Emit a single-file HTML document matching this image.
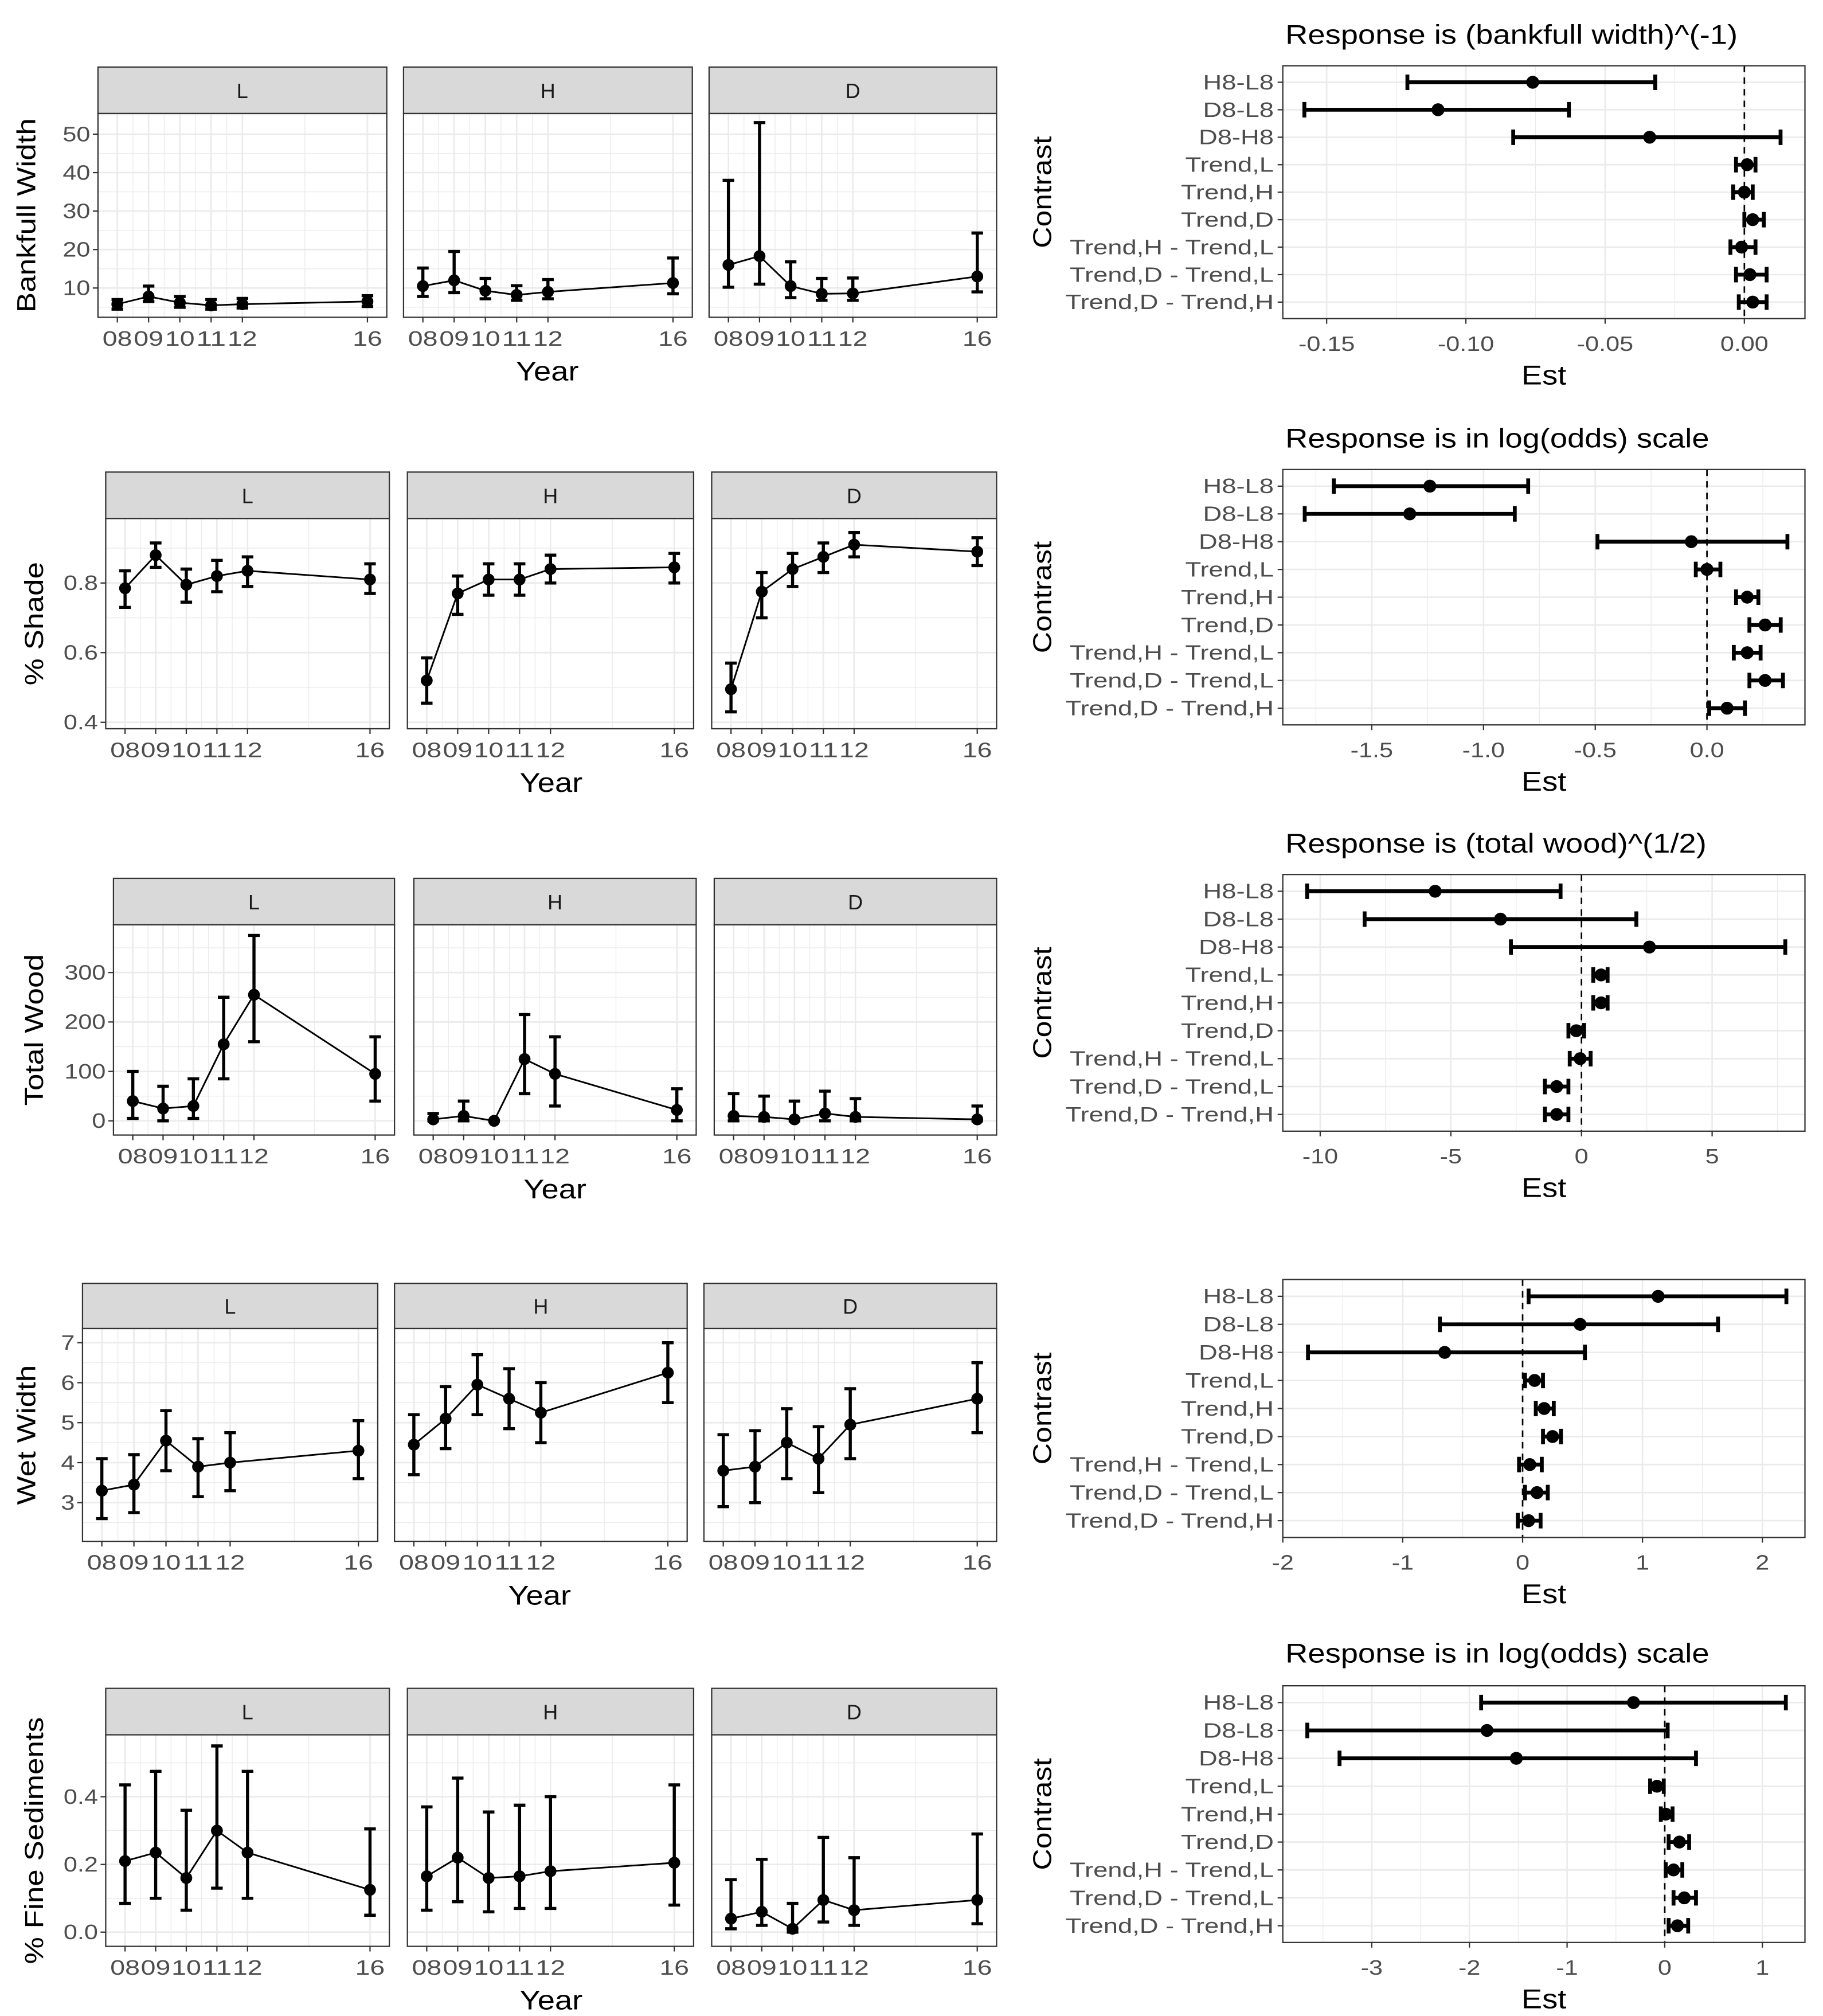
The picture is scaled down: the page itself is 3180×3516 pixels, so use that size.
<!DOCTYPE html>
<html><head><meta charset="utf-8"><style>
html,body{margin:0;padding:0;background:#fff;}
svg{display:block;font-family:"Liberation Sans",sans-serif;}
</style></head><body>
<svg id="fig" width="3180" height="3516" viewBox="0 0 1414 1563" preserveAspectRatio="none" xmlns="http://www.w3.org/2000/svg"></svg>
<script>
// ---------- Data: left facet panels (years, mean, lower, upper) per group L,H,D ----------
const years = [2008, 2009, 2010, 2011, 2012, 2016];
const yearLabels = ["08","09","10","11","12","16"];
const groups = ["L","H","D"];

const bankMean = [[5.8,7.8,6.2,5.5,5.8,6.5],[10.5,12,9.3,8.2,9,11.3],[16,18.3,10.5,8.5,8.6,13]];
const bankLo   = [[4.5,6.5,5,4.5,4.8,5.2],[7.8,8.8,7.2,6.8,7.2,8.5],[10.2,11,7.5,6.8,6.8,9]];
const bankHi   = [[7,10.5,7.8,7,7.3,8],[15.2,19.5,12.5,10.6,12.2,17.8],[38,53,16.8,12.5,12.6,24.3]];

const shadeMean = [[0.785,0.88,0.795,0.82,0.835,0.81],[0.52,0.77,0.81,0.81,0.84,0.845],[0.495,0.775,0.84,0.875,0.91,0.89]];
const shadeLo   = [[0.73,0.845,0.745,0.775,0.79,0.77],[0.455,0.71,0.765,0.765,0.80,0.80],[0.43,0.70,0.79,0.83,0.875,0.85]];
const shadeHi   = [[0.835,0.915,0.84,0.865,0.875,0.855],[0.585,0.82,0.855,0.855,0.88,0.885],[0.57,0.83,0.885,0.915,0.945,0.93]];

const woodMean = [[40,25,30,155,255,95],[3,10,0,125,95,22],[10,8,3,15,8,3]];
const woodLo   = [[5,0,5,85,160,40],[0,0,0,55,30,0],[0,0,0,0,0,0]];
const woodHi   = [[100,70,85,250,375,170],[15,40,0,215,170,65],[55,50,40,60,45,30]];

const wetMean = [[3.3,3.45,4.55,3.9,4.0,4.3],[4.45,5.1,5.95,5.6,5.25,6.25],[3.8,3.9,4.5,4.1,4.95,5.6]];
const wetLo   = [[2.6,2.75,3.8,3.15,3.3,3.6],[3.7,4.35,5.2,4.85,4.5,5.5],[2.9,3.0,3.6,3.25,4.1,4.75]];
const wetHi   = [[4.1,4.2,5.3,4.6,4.75,5.05],[5.2,5.9,6.7,6.35,6.0,7.0],[4.7,4.8,5.35,4.9,5.85,6.5]];

const fineMean = [[0.21,0.235,0.16,0.30,0.235,0.125],[0.165,0.22,0.16,0.165,0.18,0.205],[0.04,0.06,0.01,0.095,0.065,0.095]];
const fineLo   = [[0.085,0.1,0.065,0.13,0.1,0.05],[0.065,0.09,0.06,0.07,0.07,0.08],[0.01,0.02,0,0.03,0.02,0.025]];
const fineHi   = [[0.435,0.475,0.36,0.55,0.475,0.305],[0.37,0.455,0.355,0.375,0.4,0.435],[0.155,0.215,0.085,0.28,0.22,0.29]];

const bankTicks = [10,20,30,40,50];
const shadeTicks = [0.4,0.6,0.8];
const woodTicks = [0,100,200,300];
const wetTicks = [3,4,5,6,7];
const fineTicks = [0,0.2,0.4];

// ---------- Data: right contrast panels ----------
const contrasts = ["H8-L8","D8-L8","D8-H8","Trend,L","Trend,H","Trend,D","Trend,H - Trend,L","Trend,D - Trend,L","Trend,D - Trend,H"];

const c1Est = [-0.076,-0.110,-0.034,0.001,0,0.003,-0.001,0.002,0.003];
const c1Lo  = [-0.121,-0.158,-0.083,-0.003,-0.004,0,-0.005,-0.003,-0.002];
const c1Hi  = [-0.032,-0.063,0.013,0.004,0.003,0.007,0.004,0.008,0.008];

const c2Est = [-1.24,-1.33,-0.07,0,0.18,0.26,0.18,0.26,0.09];
const c2Lo  = [-1.67,-1.80,-0.49,-0.05,0.13,0.19,0.12,0.19,0.01];
const c2Hi  = [-0.80,-0.86,0.36,0.06,0.23,0.33,0.24,0.34,0.17];

const c3Est = [-5.6,-3.1,2.6,0.75,0.75,-0.2,-0.05,-0.95,-0.95];
const c3Lo  = [-10.5,-8.3,-2.7,0.45,0.45,-0.5,-0.45,-1.4,-1.4];
const c3Hi  = [-0.8,2.1,7.8,1.0,1.0,0.1,0.35,-0.5,-0.5];

const c4Est = [1.13,0.48,-0.65,0.10,0.18,0.25,0.06,0.12,0.05];
const c4Lo  = [0.05,-0.69,-1.79,0.02,0.11,0.17,-0.03,0.02,-0.04];
const c4Hi  = [2.2,1.63,0.52,0.17,0.26,0.32,0.16,0.21,0.15];

const c5Est = [-0.32,-1.82,-1.52,-0.08,0.01,0.15,0.09,0.2,0.13];
const c5Lo  = [-1.88,-3.66,-3.33,-0.15,-0.04,0.04,0.01,0.09,0.04];
const c5Hi  = [1.24,0.03,0.32,-0.01,0.08,0.25,0.18,0.32,0.24];

const c1Ticks = [-0.15,-0.10,-0.05,0.00];
const c2Ticks = [-1.5,-1.0,-0.5,0.0];
const c3Ticks = [-10,-5,0,5];
const c4Ticks = [-2,-1,0,1,2];
const c5Ticks = [-3,-2,-1,0,1];

// ---------- Layout ----------
const NS = "http://www.w3.org/2000/svg";
const svg = document.getElementById("fig");
function el(tag, attrs, parent){
  const e = document.createElementNS(NS, tag);
  for (const k in attrs) e.setAttribute(k, attrs[k]);
  (parent||svg).appendChild(e);
  return e;
}
function stretch(t, f){
  try {
    const w = t.getComputedTextLength();
    if (w > 0) { t.setAttribute("textLength", (w*f).toFixed(2)); t.setAttribute("lengthAdjust", "spacingAndGlyphs"); }
  } catch(e) {}
}
function lin(d0,p0,d1,p1){ return v => p0 + (v-d0)*(p1-p0)/(d1-d0); }

const leftRows = [
  {strip:52, top:88, bot:246, panels:[[76,300],[313,537],[550,773]], ya:[10,223.3,50,104], ticks:bankTicks, step:10, dec:0, title:"Bankfull Width", tx:22, mean:bankMean, lo:bankLo, hi:bankHi},
  {strip:366, top:402, bot:565, panels:[[82,302],[316,538],[552,773]], ya:[0.4,560,0.8,452], ticks:shadeTicks, step:0.2, dec:1, title:"% Shade", tx:28, mean:shadeMean, lo:shadeLo, hi:shadeHi},
  {strip:681, top:717, bot:880, panels:[[88,306],[321,540],[554,773]], ya:[0,869,300,754], ticks:woodTicks, step:100, dec:0, title:"Total Wood", tx:28, mean:woodMean, lo:woodLo, hi:woodHi},
  {strip:995, top:1030, bot:1195, panels:[[64,293],[306,533],[546,773]], ya:[3,1165,7,1041], ticks:wetTicks, step:1, dec:0, title:"Wet Width", tx:22, mean:wetMean, lo:wetLo, hi:wetHi},
  {strip:1309, top:1345, bot:1509, panels:[[82,302],[316,538],[552,773]], ya:[0,1498,0.4,1393], ticks:fineTicks, step:0.2, dec:1, title:"% Fine Sediments", tx:28, mean:fineMean, lo:fineLo, hi:fineHi}
];

leftRows.forEach((r, ri) => {
  const ys = lin(r.ya[0], r.ya[1], r.ya[2], r.ya[3]);
  const vTop = r.ya[0] + (r.top - r.ya[1])*(r.ya[2]-r.ya[0])/(r.ya[3]-r.ya[1]);
  const minors = [];
  for (let v = r.ticks[0] - r.step*3; v <= vTop + r.step; v += r.step/2) minors.push(+v.toFixed(6));
  r.panels.forEach((p, gi) => {
    const g = el("g", {});
    
    
    const xs = lin(2008, p[0]+15, 2016, p[1]-15);
    const st = el("rect", {x:p[0], y:r.strip, width:p[1]-p[0], height:r.top-r.strip, fill:"#d9d9d9", stroke:"#333", "stroke-width":1}, g);
    
    
    const stt = el("text", {x:(p[0]+p[1])/2, y:(r.strip+r.top)/2+6, "text-anchor":"middle", "font-size":16, fill:"#1a1a1a"}, g);
    stt.textContent = groups[gi];
    
    
    el("rect", {x:p[0], y:r.top, width:p[1]-p[0], height:r.bot-r.top, fill:"#fff"}, g);
    minors.forEach(v => { const y = ys(v); if (y > r.top && y < r.bot) el("line", {x1:p[0], x2:p[1], y1:y, y2:y, stroke:"#ebebeb", "stroke-width":0.6}, g); });
    r.ticks.forEach(v => { const y = ys(v); el("line", {x1:p[0], x2:p[1], y1:y, y2:y, stroke:"#ebebeb", "stroke-width":1.2}, g); });
    [8.5,9.5,10.5,11.5,14].forEach(v => { const x = xs(2000+v); el("line", {x1:x, x2:x, y1:r.top, y2:r.bot, stroke:"#ebebeb", "stroke-width":0.6}, g); });
    years.forEach(v => { const x = xs(v); el("line", {x1:x, x2:x, y1:r.top, y2:r.bot, stroke:"#ebebeb", "stroke-width":1.2}, g); });
    const pts = years.map((yr,i) => xs(yr)+","+ys(r.mean[gi][i])).join(" ");
    const pl = el("polyline", {points:pts, fill:"none", stroke:"#000", "stroke-width":1.3}, g);
    
    
    years.forEach((yr,i) => {
      const x = xs(yr), y1 = ys(r.lo[gi][i]), y2 = ys(r.hi[gi][i]);
      const eb = el("path", {d:`M${x},${y1}V${y2}M${x-4.5},${y1}H${x+4.5}M${x-4.5},${y2}H${x+4.5}`, stroke:"#000", "stroke-width":2.4, fill:"none"}, g);
      
      
      const c = el("circle", {cx:x, cy:ys(r.mean[gi][i]), r:4.6, fill:"#000"}, g);
      
      
    });
    el("rect", {x:p[0], y:r.top, width:p[1]-p[0], height:r.bot-r.top, fill:"none", stroke:"#333", "stroke-width":1}, g);
    years.forEach((yr,i) => {
      const x = xs(yr);
      el("line", {x1:x, x2:x, y1:r.bot, y2:r.bot+4, stroke:"#333", "stroke-width":1}, g);
      const t = el("text", {x:x, y:r.bot+22, "text-anchor":"middle", "font-size":16, fill:"#4d4d4d", textLength:23, lengthAdjust:"spacingAndGlyphs"}, g);
      t.textContent = yearLabels[i];
      
      
    });
    if (gi === 0) {
      r.ticks.forEach(v => {
        const y = ys(v);
        el("line", {x1:p[0]-4, x2:p[0], y1:y, y2:y, stroke:"#333", "stroke-width":1}, g);
        const t = el("text", {x:p[0]-6, y:y+5.5, "text-anchor":"end", "font-size":16, fill:"#4d4d4d"}, g);
        t.textContent = v.toFixed(r.dec);
        
        
        stretch(t, 1.2);
      });
    }
  });
  const cy = (r.top + r.bot)/2;
  const yt = el("text", {x:r.tx, y:cy, transform:`rotate(-90 ${r.tx} ${cy})`, "text-anchor":"middle", "dominant-baseline":"middle", "font-size":20, fill:"#000"});
  yt.textContent = r.title;
  
  
  stretch(yt, 1.18);
  const xt = el("text", {x:(r.panels[0][0]+r.panels[2][1])/2, y:r.bot+49, "text-anchor":"middle", "font-size":21, fill:"#000"});
  xt.textContent = "Year";
  
  
  stretch(xt, 1.15);
});

// ---------- Right contrast panels ----------
const rightRows = [
  {top:51, bot:247, xa:[-0.15,1029,0,1353], ticks:c1Ticks, dec:2, title:"Response is (bankfull width)^(-1)", titleY:34, est:c1Est, lo:c1Lo, hi:c1Hi},
  {top:364, bot:562, xa:[-1.5,1064,0,1324], ticks:c2Ticks, dec:1, title:"Response is in log(odds) scale", titleY:347, est:c2Est, lo:c2Lo, hi:c2Hi},
  {top:678, bot:877, xa:[-10,1024,5,1328], ticks:c3Ticks, dec:0, title:"Response is (total wood)^(1/2)", titleY:661, est:c3Est, lo:c3Lo, hi:c3Hi},
  {top:992, bot:1192, xa:[-2,995,2,1367], ticks:c4Ticks, dec:0, title:"", titleY:0, est:c4Est, lo:c4Lo, hi:c4Hi},
  {top:1307, bot:1506, xa:[-3,1064,1,1367], ticks:c5Ticks, dec:0, title:"Response is in log(odds) scale", titleY:1289, est:c5Est, lo:c5Lo, hi:c5Hi}
];
const PL = 995, PR = 1400;
rightRows.forEach((r, ri) => {
  const g = el("g", {});
  
  
  const xs = lin(r.xa[0], r.xa[1], r.xa[2], r.xa[3]);
  const dy = (r.bot - r.top) / (contrasts.length - 1 + 1.2);
  const yc = i => r.top + 0.6*dy + i*dy;
  const step = r.ticks[1] - r.ticks[0];
  for (let v = r.ticks[0] - step*1.5; v <= r.ticks[r.ticks.length-1] + step*1.5; v += step) {
    const x = xs(v); if (x > PL && x < PR) el("line", {x1:x, x2:x, y1:r.top, y2:r.bot, stroke:"#ebebeb", "stroke-width":0.6}, g);
  }
  r.ticks.forEach(v => { const x = xs(v); el("line", {x1:x, x2:x, y1:r.top, y2:r.bot, stroke:"#ebebeb", "stroke-width":1.2}, g); });
  contrasts.forEach((c,i) => el("line", {x1:PL, x2:PR, y1:yc(i), y2:yc(i), stroke:"#ebebeb", "stroke-width":1.2}, g));
  const z = el("line", {x1:xs(0), x2:xs(0), y1:r.top, y2:r.bot, stroke:"#000", "stroke-width":1.2, "stroke-dasharray":"5,4"}, g);
  
  
  contrasts.forEach((c,i) => {
    const y = yc(i), x1 = xs(r.lo[i]), x2 = xs(r.hi[i]);
    const eb = el("path", {d:`M${x1},${y}H${x2}M${x1},${y-6}V${y+6}M${x2},${y-6}V${y+6}`, stroke:"#000", "stroke-width":3, fill:"none"}, g);
    
    
    const p = el("circle", {cx:xs(r.est[i]), cy:y, r:5, fill:"#000"}, g);
    
    
    el("line", {x1:PL-4, x2:PL, y1:y, y2:y, stroke:"#333", "stroke-width":1}, g);
    const t = el("text", {x:PL-7, y:y+5.5, "text-anchor":"end", "font-size":16, fill:"#4d4d4d"}, g);
    t.textContent = c;
    
    
    stretch(t, 1.26);
  });
  el("rect", {x:PL, y:r.top, width:PR-PL, height:r.bot-r.top, fill:"none", stroke:"#333", "stroke-width":1}, g);
  r.ticks.forEach(v => {
    const x = xs(v);
    el("line", {x1:x, x2:x, y1:r.bot, y2:r.bot+4, stroke:"#333", "stroke-width":1}, g);
    const t = el("text", {x:x, y:r.bot+25, "text-anchor":"middle", "font-size":16, fill:"#4d4d4d"}, g);
    t.textContent = v.toFixed(r.dec);
    
    
    stretch(t, 1.2);
  });
  const cy = (r.top + r.bot)/2;
  const yt = el("text", {x:810, y:cy, transform:`rotate(-90 810 ${cy})`, "text-anchor":"middle", "dominant-baseline":"middle", "font-size":20, fill:"#000"}, g);
  yt.textContent = "Contrast";
  
  
  stretch(yt, 1.15);
  const xt = el("text", {x:(PL+PR)/2, y:r.bot+51, "text-anchor":"middle", "font-size":21, fill:"#000"}, g);
  xt.textContent = "Est";
  
  
  stretch(xt, 1.15);
  if (r.title) {
    const tt = el("text", {x:PL+2, y:r.titleY, "font-size":21, fill:"#000"}, g);
    tt.textContent = r.title;
    
    
    stretch(tt, 1.15);
  }
});
</script>
</body></html>
